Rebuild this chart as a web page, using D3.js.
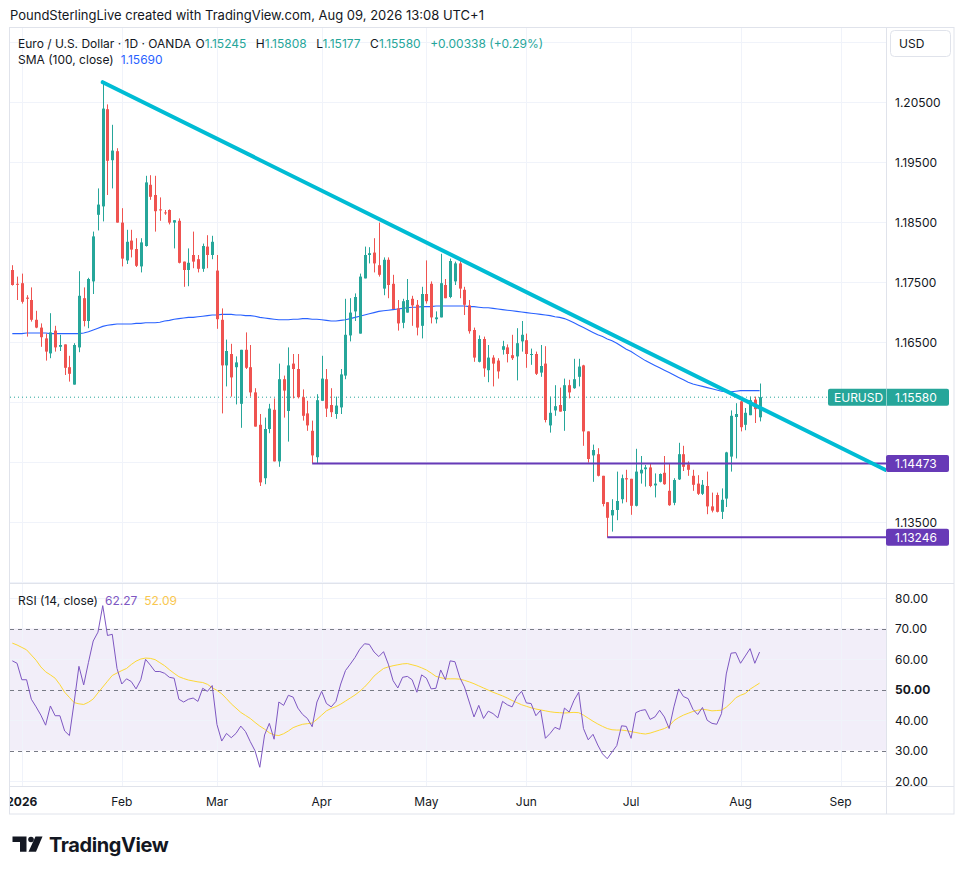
<!DOCTYPE html>
<html>
<head>
<meta charset="utf-8">
<script src="https://cdn.jsdelivr.net/npm/d3@7"></script>
<style>
  body { margin: 0; background: #fff; }
  svg { display: block; font-family: "Inter", "Noto Sans", sans-serif; }
</style>
</head>
<body>
<div id="chart"></div>
<script>
/* EUR/USD daily candles with SMA(100) and RSI(14) */

// bar index 0 = Dec 30 2025, one bar per weekday (Jan 1 has no bar)
const opens = [1.1770,1.1747,1.1748,1.1724,1.1720,1.1687,1.1674,1.1656,1.1631,1.1669,1.1642,1.1646,1.1608,1.1579,1.1641,1.1723,1.1685,1.1751,1.1862,1.1876,
  1.2038,1.1953,1.1968,1.1849,1.1786,1.1819,1.1805,1.1776,1.1810,1.1912,1.1895,1.1871,1.1866,1.1870,1.1849,1.1852,1.1784,1.1770,1.1795,1.1788,
  1.1772,1.1809,1.1795,1.1769,1.1687,1.1611,1.1630,1.1608,1.1547,1.1637,1.1608,1.1566,1.1512,1.1423,1.1505,1.1537,1.1451,1.1588,1.1535,1.1614,
  1.1605,1.1558,1.1531,1.1502,1.1458,1.1552,1.1588,1.1545,1.1530,1.1541,1.1594,1.1661,1.1701,1.1664,1.1756,1.1795,1.1799,1.1778,1.1739,1.1787,
  1.1747,1.1706,1.1682,1.1699,1.1722,1.1712,1.1677,1.1730,1.1747,1.1688,1.1691,1.1745,1.1725,1.1751,1.1781,1.1737,1.1711,1.1670,1.1617,1.1655,
  1.1603,1.1624,1.1619,1.1637,1.1641,1.1628,1.1626,1.1651,1.1653,1.1629,1.1630,1.1599,1.1614,1.1511,1.1536,1.1545,1.1535,1.1578,1.1573,1.1592,
  1.1611,1.1501,1.1461,1.1463,1.1427,1.1383,1.1361,1.1370,1.1388,1.1423,1.1422,1.1377,1.1431,1.1438,1.1441,1.1411,1.1417,1.1432,1.1402,1.1382,
  1.1421,1.1463,1.1446,1.1427,1.1414,1.1397,1.1410,1.1376,1.1395,1.1367,1.1389,1.1459,1.1525,1.1551,1.1512,1.1528,1.1554,1.15245];
const highs = [1.1778,1.1759,1.1764,1.1728,1.1741,1.1702,1.1681,1.1664,1.1698,1.1677,1.1662,1.1646,1.1627,1.1648,1.1768,1.1741,1.1757,1.1834,1.1906,1.2083,
  1.2046,1.2012,1.1973,1.1873,1.1837,1.1837,1.1823,1.1823,1.1927,1.1928,1.1927,1.1891,1.1870,1.1871,1.1853,1.1856,1.1784,1.1806,1.1834,1.1795,
  1.1814,1.1828,1.1827,1.1795,1.1706,1.1654,1.1647,1.1626,1.1637,1.1666,1.1645,1.1573,1.1530,1.1524,1.1547,1.1556,1.1614,1.1594,1.1641,1.1630,
  1.1630,1.1571,1.1552,1.1519,1.1563,1.1627,1.1605,1.1573,1.1559,1.1605,1.1722,1.1723,1.1731,1.1764,1.1809,1.1808,1.1823,1.1849,1.1791,1.1791,
  1.1762,1.1720,1.1722,1.1755,1.1727,1.1720,1.1742,1.1786,1.1751,1.1701,1.1797,1.1755,1.1789,1.1784,1.1789,1.1742,1.1720,1.1674,1.1661,1.1659,
  1.1645,1.1628,1.1623,1.1652,1.1646,1.1662,1.1673,1.1685,1.1664,1.1639,1.1634,1.1645,1.1643,1.1559,1.1578,1.1574,1.1589,1.1587,1.1622,1.1622,
  1.1612,1.1501,1.1479,1.1473,1.1427,1.1383,1.1388,1.1434,1.1429,1.1437,1.1422,1.1472,1.1460,1.1445,1.1448,1.1431,1.1431,1.1460,1.1447,1.1423,
  1.1482,1.1477,1.1451,1.1437,1.1428,1.1420,1.1434,1.1399,1.1399,1.1406,1.1467,1.1536,1.1548,1.1558,1.1540,1.1559,1.1559,1.15808];
const lows = [1.1744,1.1720,1.1714,1.1659,1.1684,1.1673,1.1642,1.1619,1.1623,1.1634,1.1635,1.1595,1.1584,1.1579,1.1633,1.1676,1.1673,1.1730,1.1836,1.1851,
  1.1895,1.1906,1.1849,1.1776,1.1780,1.1791,1.1775,1.1766,1.1809,1.1887,1.1834,1.1852,1.1862,1.1846,1.1806,1.1781,1.1742,1.1743,1.1773,1.1766,
  1.1767,1.1773,1.1788,1.1672,1.1531,1.1576,1.1559,1.1546,1.1507,1.1605,1.1559,1.1509,1.1410,1.1413,1.1498,1.1451,1.1442,1.1524,1.1484,1.1556,
  1.1556,1.1519,1.1502,1.1448,1.1448,1.1552,1.1525,1.1525,1.1522,1.1530,1.1588,1.1651,1.1685,1.1664,1.1756,1.1781,1.1766,1.1759,1.1728,1.1723,
  1.1705,1.1669,1.1673,1.1699,1.1677,1.1661,1.1656,1.1714,1.1681,1.1681,1.1691,1.1723,1.1723,1.1745,1.1723,1.1695,1.1664,1.1617,1.1616,1.1592,
  1.1583,1.1576,1.1589,1.1629,1.1616,1.1620,1.1586,1.1634,1.1607,1.1612,1.1595,1.1592,1.1516,1.1499,1.1527,1.1534,1.1502,1.1556,1.1572,1.1576,
  1.1477,1.1449,1.1417,1.1426,1.1376,1.13246,1.1334,1.1353,1.1381,1.1383,1.1362,1.1376,1.1414,1.1409,1.1408,1.1391,1.1416,1.1412,1.1377,1.1378,
  1.1420,1.1435,1.1427,1.1402,1.1395,1.1395,1.1363,1.1366,1.1366,1.1355,1.1375,1.1434,1.1456,1.1501,1.1503,1.1528,1.1515,1.15177];
const closes = [1.1745,1.1746,1.1717,1.1722,1.1687,1.1674,1.1658,1.1634,1.1666,1.1641,1.1645,1.1607,1.1597,1.1645,1.1727,1.1685,1.1755,1.1826,1.1879,1.2039,
  1.1952,1.1969,1.1849,1.1789,1.1817,1.1804,1.1777,1.1816,1.1916,1.1892,1.1868,1.1870,1.1865,1.1849,1.1853,1.1782,1.1770,1.1782,1.1784,1.1772,
  1.1810,1.1795,1.1817,1.1688,1.1611,1.1635,1.1591,1.1616,1.1637,1.1607,1.1566,1.1509,1.1416,1.1505,1.1539,1.1451,1.1588,1.1569,1.1611,1.1605,
  1.1558,1.1527,1.1511,1.1461,1.1553,1.1589,1.1539,1.1533,1.1544,1.1596,1.1662,1.1699,1.1725,1.1759,1.1795,1.1798,1.1781,1.1762,1.1787,1.1745,
  1.1705,1.1681,1.1718,1.1720,1.1711,1.1674,1.1730,1.1718,1.1691,1.1691,1.1748,1.1723,1.1785,1.1781,1.1739,1.1712,1.1668,1.1624,1.1655,1.1606,
  1.1624,1.1614,1.1601,1.1643,1.1630,1.1623,1.1648,1.1662,1.1630,1.1630,1.1597,1.1610,1.1520,1.1532,1.1543,1.1534,1.1578,1.1566,1.1588,1.1609,
  1.1501,1.1455,1.1470,1.1427,1.1380,1.1357,1.1370,1.1385,1.1423,1.1421,1.1377,1.1434,1.1437,1.1441,1.1410,1.1414,1.1430,1.1413,1.1378,1.1420,
  1.1463,1.1442,1.1437,1.1412,1.1397,1.1412,1.1376,1.1369,1.1367,1.1387,1.1466,1.1527,1.1530,1.1508,1.1532,1.1553,1.1538,1.15580];

// change shown in the legend for the last bar
const lastChange = ["+0.00338", "+0.29%"];

const sma100 = [1.1664,1.1664,1.1664,1.1665,1.1665,1.1665,1.1665,1.1665,1.1664,1.1664,1.1664,1.1664,1.1664,1.1664,1.1664,1.1665,1.1667,1.1670,1.1673,1.1676,
  1.1678,1.1679,1.1680,1.1680,1.1680,1.1680,1.1681,1.1681,1.1682,1.1682,1.1682,1.1683,1.1685,1.1686,1.1688,1.1689,1.1690,1.1691,1.1691,1.1692,
  1.1693,1.1694,1.1695,1.1695,1.1696,1.1696,1.1696,1.1695,1.1695,1.1694,1.1694,1.1693,1.1691,1.1690,1.1689,1.1688,1.1687,1.1687,1.1687,1.1688,
  1.1688,1.1689,1.1689,1.1688,1.1688,1.1687,1.1686,1.1685,1.1685,1.1686,1.1687,1.1689,1.1691,1.1693,1.1695,1.1697,1.1699,1.1701,1.1702,1.1703,
  1.1704,1.1705,1.1706,1.1707,1.1708,1.1708,1.1709,1.1709,1.1709,1.1710,1.1710,1.1710,1.1710,1.1710,1.1710,1.1710,1.1709,1.1709,1.1708,1.1707,
  1.1707,1.1706,1.1705,1.1704,1.1703,1.1702,1.1701,1.1700,1.1699,1.1698,1.1697,1.1696,1.1695,1.1694,1.1692,1.1691,1.1689,1.1686,1.1682,1.1678,
  1.1674,1.1670,1.1666,1.1662,1.1659,1.1655,1.1652,1.1648,1.1643,1.1638,1.1634,1.1629,1.1624,1.1619,1.1615,1.1611,1.1607,1.1603,1.1599,1.1595,
  1.1591,1.1587,1.1583,1.1580,1.1578,1.1576,1.1574,1.1572,1.1570,1.1568,1.1567,1.1567,1.1568,1.1569,1.1569,1.1569,1.1569,1.1569];

const rsi14 = [59.4,58.6,53.2,53.2,46.8,44.3,41.6,38.3,44.6,41.4,41.4,36.4,34.9,45.9,57.6,51.5,58.9,65.9,68.8,77.5,
  67.7,68.1,56.9,51.8,53.5,52.6,50.2,53.2,59.9,58.0,55.9,55.9,55.3,54.0,53.7,46.8,45.9,46.8,47.2,46.1,
  50.4,49.4,51.3,38.5,33.1,35.6,34.2,35.6,38.0,36.2,32.9,29.9,24.5,35.1,38.9,33.7,45.9,44.8,48.1,47.5,
  43.9,41.8,40.5,37.8,45.9,49.4,45.4,44.3,46.1,51.8,56.2,58.3,60.5,63.2,65.0,64.8,62.3,60.8,62.4,58.3,
  52.9,50.5,54.0,54.3,53.2,49.1,54.8,53.7,50.2,50.4,56.4,53.2,59.4,59.1,54.0,50.8,45.9,41.0,44.8,40.5,
  42.9,42.1,40.7,46.1,45.0,44.3,47.6,49.4,45.6,45.4,41.4,43.2,34.0,35.6,37.6,36.9,43.9,42.6,46.4,49.1,
  37.2,33.5,35.3,31.8,28.9,27.3,29.5,31.6,38.1,37.9,34.0,42.4,43.1,43.4,40.2,41.0,43.2,41.0,37.2,44.3,
  50.2,47.7,47.0,43.5,41.8,44.1,39.9,38.9,38.6,42.1,55.1,61.9,62.1,58.6,61.0,63.4,58.6,62.27];

const rsiMa = [65.2,64.6,63.8,63.0,61.3,59.6,57.4,55.8,54.8,53.7,51.6,49.1,47.4,45.7,45.3,45.1,45.8,46.9,48.9,50.8,
  52.7,54.6,55.4,56.2,56.9,58.2,59.3,60.0,60.3,60.2,59.8,58.8,57.8,56.5,55.3,54.2,53.6,53.1,52.8,52.5,
  52.3,51.7,50.6,49.7,48.6,47.0,45.3,43.9,42.5,41.5,40.5,39.2,38.0,37.0,35.8,35.1,34.9,35.5,36.4,37.5,
  38.1,38.6,38.8,39.0,40.2,41.6,43.0,43.8,44.4,45.2,46.2,47.2,48.2,49.4,50.8,52.5,54.4,55.7,56.9,57.4,
  57.8,58.1,58.4,58.5,58.1,57.7,57.1,56.4,55.4,54.3,53.9,53.5,53.5,53.5,53.4,53.0,52.5,51.9,51.2,50.5,
  49.8,49.1,48.5,47.9,47.2,46.4,45.7,45.0,44.5,44.0,43.6,43.3,43.0,42.7,42.5,42.4,42.3,42.4,42.5,42.4,
  41.6,40.6,39.6,38.7,37.9,37.2,36.8,36.7,36.7,36.5,36.2,35.9,35.6,35.4,35.7,36.2,36.7,37.2,38.0,39.8,
  40.8,41.6,42.2,42.8,43.2,43.5,43.3,43.0,43.1,43.2,44.2,45.6,47.3,48.1,48.7,50.1,51.1,52.09];

const monthLabels = ["2026", "Feb", "Mar", "Apr", "May", "Jun", "Jul", "Aug", "Sep"];
const monthBars = [2, 23, 43, 65, 87, 108, 130, 153, 174];

const priceGrid = [1.125, 1.135, 1.145, 1.155, 1.165, 1.175, 1.185, 1.195, 1.205, 1.215];
const priceLabels = [1.135, 1.165, 1.175, 1.185, 1.195, 1.205];
const rsiGrid = [20, 40, 60, 80];
const rsiLabels = [20, 30, 40, 50, 60, 70, 80];
const rsiBands = [70, 50, 30];

// trendline anchors [bar, price] and horizontal support levels [startBar, price]
const trendPoints = [[19, 1.2083], [183.5, 1.14367]];
const levels = [[63, 1.14473], [125, 1.13246]];

const W = 964, H = 875;
const left = 10, right = 886, axisRight = 954;
const mainTop = 28, mainBottom = 583, rsiTop = 584, rsiBottom = 786, timeBottom = 814;

const green = "#26a69a", red = "#ef5350", ink = "#131722", grid = "#f0f3fa", border = "#e0e3eb";

const x = d3.scaleLinear().domain([0, 174]).range([12.3, 840.5]);
const y = d3.scaleLinear().domain([1.135, 1.205]).range([522, 102]);
const yr = d3.scaleLinear().domain([20, 80]).range([781, 598]);
const fmt = d3.format(".5f");

const svg = d3.select("#chart").append("svg")
  .attr("width", W).attr("height", H)
  .attr("viewBox", [0, 0, W, H]);

svg.append("rect").attr("width", W).attr("height", H).attr("fill", "#fff");

const defs = svg.append("defs");
defs.append("clipPath").attr("id", "clipMain").append("rect")
  .attr("x", left).attr("y", mainTop).attr("width", right - left).attr("height", mainBottom - mainTop);
defs.append("clipPath").attr("id", "clipRsi").append("rect")
  .attr("x", left).attr("y", rsiTop).attr("width", right - left).attr("height", rsiBottom - rsiTop);
defs.append("clipPath").attr("id", "clipTime").append("rect")
  .attr("x", left).attr("y", rsiBottom).attr("width", right - left).attr("height", timeBottom - rsiBottom);

// header
svg.append("text").attr("x", 10).attr("y", 19.5)
  .attr("font-size", 13).attr("fill", ink)
  .text("PoundSterlingLive created with TradingView.com, Aug 09, 2026 13:08 UTC+1");

// grid
const gMain = svg.append("g").attr("clip-path", "url(#clipMain)");
gMain.selectAll("line.h").data(priceGrid).join("line")
  .attr("x1", left).attr("x2", right)
  .attr("y1", d => Math.round(y(d)) + 0.5).attr("y2", d => Math.round(y(d)) + 0.5)
  .attr("stroke", grid);
gMain.selectAll("line.v").data(monthBars).join("line")
  .attr("x1", d => Math.round(x(d)) + 0.5).attr("x2", d => Math.round(x(d)) + 0.5)
  .attr("y1", mainTop).attr("y2", mainBottom)
  .attr("stroke", grid);

const gRsi = svg.append("g").attr("clip-path", "url(#clipRsi)");
gRsi.append("rect")
  .attr("x", left).attr("width", right - left)
  .attr("y", yr(70)).attr("height", yr(30) - yr(70))
  .attr("fill", "rgba(126,87,194,0.1)");
gRsi.selectAll("line.h").data(rsiGrid).join("line")
  .attr("x1", left).attr("x2", right)
  .attr("y1", d => Math.round(yr(d)) + 0.5).attr("y2", d => Math.round(yr(d)) + 0.5)
  .attr("stroke", grid);
gRsi.selectAll("line.v").data(monthBars).join("line")
  .attr("x1", d => Math.round(x(d)) + 0.5).attr("x2", d => Math.round(x(d)) + 0.5)
  .attr("y1", rsiTop).attr("y2", rsiBottom)
  .attr("stroke", grid);
gRsi.selectAll("line.band").data(rsiBands).join("line")
  .attr("x1", left).attr("x2", right)
  .attr("y1", d => Math.round(yr(d)) + 0.5).attr("y2", d => Math.round(yr(d)) + 0.5)
  .attr("stroke", "#787b86").attr("stroke-dasharray", "4,4");

// SMA 100
gMain.append("path")
  .attr("d", d3.line().x((d, i) => x(i)).y(d => y(d))(sma100))
  .attr("fill", "none").attr("stroke", "#2962ff").attr("stroke-width", 1.1);

// last price dotted line
gMain.append("line")
  .attr("x1", left).attr("x2", 828)
  .attr("y1", y(closes[closes.length - 1])).attr("y2", y(closes[closes.length - 1]))
  .attr("stroke", green).attr("stroke-width", 1).attr("stroke-dasharray", "1,3");

// candles
const bars = d3.range(opens.length);
const candle = gMain.append("g").selectAll("g").data(bars).join("g")
  .attr("fill", i => closes[i] >= opens[i] ? green : red);
candle.append("rect")
  .attr("x", i => Math.round(x(i)))
  .attr("width", 1)
  .attr("y", i => y(highs[i]))
  .attr("height", i => Math.max(1, y(lows[i]) - y(highs[i])));
candle.append("rect")
  .attr("x", i => Math.round(x(i)) - 1)
  .attr("width", 3)
  .attr("y", i => y(Math.max(opens[i], closes[i])))
  .attr("height", i => Math.max(1, Math.abs(y(opens[i]) - y(closes[i]))));

// support levels
gMain.selectAll("line.level").data(levels).join("line")
  .attr("x1", d => x(d[0])).attr("x2", right)
  .attr("y1", d => y(d[1])).attr("y2", d => y(d[1]))
  .attr("stroke", "#673ab7").attr("stroke-width", 2);

// trendline
gMain.append("line")
  .attr("x1", x(trendPoints[0][0])).attr("y1", y(trendPoints[0][1]))
  .attr("x2", x(trendPoints[1][0])).attr("y2", y(trendPoints[1][1]))
  .attr("stroke", "#00bcd4").attr("stroke-width", 4).attr("stroke-linecap", "round");

// RSI and its MA
gRsi.append("path")
  .attr("d", d3.line().x((d, i) => x(i)).y(d => yr(d))(rsiMa))
  .attr("fill", "none").attr("stroke", "#fdd835").attr("stroke-width", 1);
gRsi.append("path")
  .attr("d", d3.line().x((d, i) => x(i)).y(d => yr(d))(rsi14))
  .attr("fill", "none").attr("stroke", "#7e57c2").attr("stroke-width", 1);

// legends
const legend = svg.append("text").attr("x", 18).attr("y", 47.5)
  .attr("font-size", 12).attr("fill", ink);
legend.append("tspan").text("Euro / U.S. Dollar · 1D · OANDA");
const ohlc = [["O", opens], ["H", highs], ["L", lows], ["C", closes]];
ohlc.forEach(([k, arr], j) => {
  legend.append("tspan").attr("dx", j ? 9.5 : 5).text(k);
  legend.append("tspan").attr("fill", green).text(fmt(arr[arr.length - 1]));
});
legend.append("tspan").attr("dx", 9.5).attr("fill", green)
  .text(`${lastChange[0]} (${lastChange[1]})`);

const smaLegend = svg.append("text").attr("x", 18).attr("y", 64)
  .attr("font-size", 12).attr("fill", ink);
smaLegend.append("tspan").text("SMA (100, close)");
smaLegend.append("tspan").attr("dx", 7).attr("fill", "#2962ff").text(fmt(sma100[sma100.length - 1]));

const rsiLegend = svg.append("text").attr("x", 18).attr("y", 604.5)
  .attr("font-size", 12).attr("fill", ink);
rsiLegend.append("tspan").text("RSI (14, close)");
rsiLegend.append("tspan").attr("dx", 7).attr("fill", "#7e57c2").text(d3.format(".2f")(rsi14[rsi14.length - 1]));
rsiLegend.append("tspan").attr("dx", 7).attr("fill", "#f9c74f").text(d3.format(".2f")(rsiMa[rsiMa.length - 1]));

// frame and separators
svg.append("rect").attr("x", 9.5).attr("y", 27.5).attr("width", axisRight - 9.5).attr("height", timeBottom - 27.5)
  .attr("fill", "none").attr("stroke", border);
svg.append("line").attr("x1", right + 0.5).attr("x2", right + 0.5).attr("y1", 28).attr("y2", timeBottom)
  .attr("stroke", border);
svg.append("line").attr("x1", 10).attr("x2", axisRight).attr("y1", mainBottom + 0.5).attr("y2", mainBottom + 0.5)
  .attr("stroke", border);
svg.append("line").attr("x1", 10).attr("x2", axisRight).attr("y1", rsiBottom + 0.5).attr("y2", rsiBottom + 0.5)
  .attr("stroke", border);

// price axis
svg.append("rect").attr("x", 890.5).attr("y", 30.5).attr("width", 60).attr("height", 26).attr("rx", 4)
  .attr("fill", "#fff").attr("stroke", border);
svg.append("text").attr("x", 899).attr("y", 48).attr("font-size", 12).attr("fill", ink).text("USD");

svg.append("g").selectAll("text").data(priceLabels).join("text")
  .attr("x", 895).attr("y", d => y(d) + 4.5)
  .attr("font-size", 12).attr("fill", ink)
  .text(d => fmt(d));

// price tags
const last = closes[closes.length - 1];
svg.append("rect").attr("x", 828).attr("y", y(last) - 8.5).attr("width", 121).attr("height", 17).attr("rx", 2)
  .attr("fill", green);
svg.append("line").attr("x1", right + 0.5).attr("x2", right + 0.5).attr("y1", y(last) - 8.5).attr("y2", y(last) + 8.5)
  .attr("stroke", "rgba(255,255,255,0.5)");
svg.append("text").attr("x", 834).attr("y", y(last) + 4.5).attr("font-size", 12).attr("fill", "#fff").text("EURUSD");
svg.append("text").attr("x", 895).attr("y", y(last) + 4.5).attr("font-size", 12).attr("fill", "#fff").text(fmt(last));

svg.append("g").selectAll("g").data(levels).join("g")
  .call(g => g.append("rect")
    .attr("x", right).attr("y", d => y(d[1]) - 8.5).attr("width", 63).attr("height", 17).attr("rx", 2)
    .attr("fill", "#673ab7"))
  .call(g => g.append("text")
    .attr("x", 895).attr("y", d => y(d[1]) + 4.5).attr("font-size", 12).attr("fill", "#fff")
    .text(d => fmt(d[1])));

// RSI axis
svg.append("g").selectAll("text").data(rsiLabels).join("text")
  .attr("x", 895).attr("y", d => yr(d) + 4.5)
  .attr("font-size", 12).attr("fill", ink)
  .attr("font-weight", d => d === 50 ? "bold" : null)
  .text(d => d3.format(".2f")(d));

// time axis
svg.append("g").attr("clip-path", "url(#clipTime)")
  .selectAll("text").data(monthBars).join("text")
  .attr("x", d => x(d)).attr("y", 806)
  .attr("text-anchor", "middle").attr("font-size", 12).attr("fill", ink)
  .attr("font-weight", (d, i) => i === 0 ? "bold" : null)
  .text((d, i) => monthLabels[i]);

// TradingView logo
const logo = svg.append("g").attr("fill", ink);
logo.append("path").attr("d", "M12.5,836.5 H26.5 V851.8 H20 V842 H12.5 Z");
logo.append("circle").attr("cx", 31).attr("cy", 839.5).attr("r", 2.8);
logo.append("path").attr("d", "M35.5,836.5 H42.5 L36,851.8 H28.5 Z");
svg.append("text").attr("x", 49).attr("y", 852)
  .attr("font-size", 20).attr("font-weight", 700).attr("fill", ink)
  .attr("letter-spacing", -0.4)
  .text("TradingView");
</script>
</body>
</html>
